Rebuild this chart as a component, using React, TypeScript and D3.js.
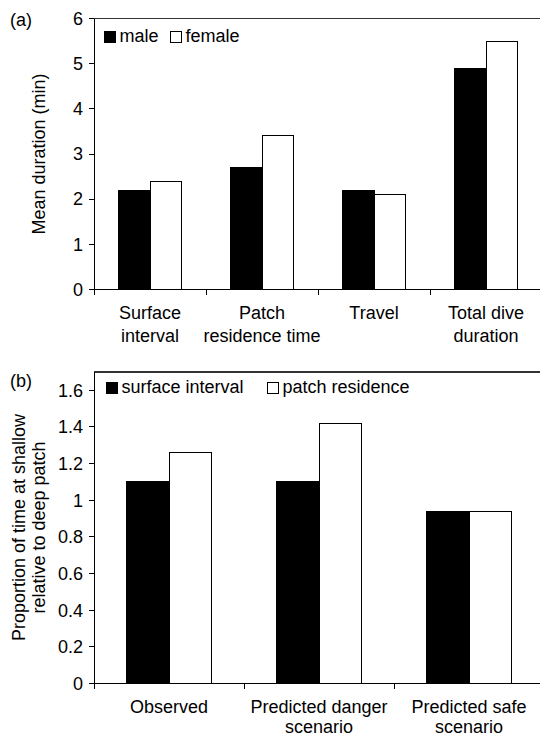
import React from "react";
import * as d3 from "d3";

// ---------- Data ----------
const categoriesA: string[][] = [["Surface", "interval"], ["Patch", "residence time"], ["Travel"], ["Total dive", "duration"]];
const maleValues: number[] = [2.2, 2.7, 2.2, 4.9];
const femaleValues: number[] = [2.4, 3.4, 2.1, 5.5];
const ticksA: number[] = [0, 1, 2, 3, 4, 5, 6];
const seriesA: string[] = ["male", "female"];

const categoriesB: string[][] = [["Observed"], ["Predicted danger", "scenario"], ["Predicted safe", "scenario"]];
const surfaceValues: number[] = [1.1, 1.1, 0.94];
const patchValues: number[] = [1.26, 1.42, 0.94];
const ticksB: number[] = [0, 0.2, 0.4, 0.6, 0.8, 1, 1.2, 1.4, 1.6];
const seriesB: string[] = ["surface interval", "patch residence"];

const FONT = "'Liberation Sans', Arial, sans-serif";
const FS = 18;
const W = 540;

type PanelProps = {
  cats: string[][];
  s1: number[];
  s2: number[];
  ticks: number[];
  yMax: number;
  top: number;
  bottom: number;
  left: number;
  xEnd: number;
  padIn: number;
  xLabelBase: number;
  lineGap: number;
};

function Panel(p: PanelProps) {
  const idx = p.cats.map((_, i) => String(i));
  const x = d3.scaleBand<string>().domain(idx).range([p.left, p.xEnd]).paddingInner(p.padIn).paddingOuter(p.padIn / 2);
  const sub = d3.scaleBand<string>().domain(["a", "b"]).range([0, x.bandwidth()]);
  const y = d3.scaleLinear().domain([0, p.yMax]).range([p.bottom, p.top]);
  const step = x.step();
  const boundaries = d3.range(p.cats.length + 1).map((i) => p.left + i * step);
  return (
    <g>
      {idx.map((k, i) => (
        <g key={k}>
          <rect x={x(k)! + sub("a")!} y={y(p.s1[i])} width={sub.bandwidth()} height={y(0) - y(p.s1[i])} fill="#000" stroke="#000" strokeWidth={1} shapeRendering="crispEdges" />
          <rect x={x(k)! + sub("b")!} y={y(p.s2[i])} width={sub.bandwidth()} height={y(0) - y(p.s2[i])} fill="#fff" stroke="#000" strokeWidth={1} shapeRendering="crispEdges" />
        </g>
      ))}
      {/* frame */}
      <line x1={p.left} x2={W} y1={p.top} y2={p.top} stroke="#333" strokeWidth={1.2} shapeRendering="crispEdges" />
      <line x1={p.left} x2={p.left} y1={p.top} y2={p.bottom + 5} stroke="#000" strokeWidth={1} shapeRendering="crispEdges" />
      <line x1={p.left} x2={W} y1={p.bottom} y2={p.bottom} stroke="#000" strokeWidth={1} shapeRendering="crispEdges" />
      {/* y ticks */}
      {p.ticks.map((t) => (
        <g key={t}>
          <line x1={p.left - 5} x2={p.left} y1={y(t)} y2={y(t)} stroke="#000" strokeWidth={1} shapeRendering="crispEdges" />
          <text x={p.left - 11} y={y(t)} dy="0.35em" textAnchor="end" fontSize={FS} fontFamily={FONT} fill="#000">
            {String(t)}
          </text>
        </g>
      ))}
      {/* x ticks */}
      {boundaries.map((b, i) => (
        <line key={i} x1={b} x2={b} y1={p.bottom} y2={p.bottom + 5} stroke="#000" strokeWidth={1} shapeRendering="crispEdges" />
      ))}
      {/* x labels */}
      {idx.map((k, i) => (
        <text key={k} textAnchor="middle" fontSize={FS} fontFamily={FONT} fill="#000">
          {p.cats[i].map((line, j) => (
            <tspan key={j} x={x(k)! + x.bandwidth() / 2} y={p.xLabelBase + j * p.lineGap}>
              {line}
            </tspan>
          ))}
        </text>
      ))}
    </g>
  );
}

function LegendItem({ x, y, label, fill }: { x: number; y: number; label: string; fill: string }) {
  return (
    <g>
      <rect x={x} y={y - 11} width={11} height={11} fill={fill} stroke="#000" strokeWidth={1} shapeRendering="crispEdges" />
      <text x={x + 15.5} y={y} fontSize={FS} fontFamily={FONT} fill="#000">
        {label}
      </text>
    </g>
  );
}

export default function App() {
  return (
    <svg width={540} height={736} style={{ position: "absolute", left: 0, top: 0, background: "#fff" }}>
      <rect x={0} y={0} width={540} height={736} fill="#fff" />
      {/* Panel (a) */}
      <text x={10} y={26} fontSize={FS} fontFamily={FONT}>(a)</text>
      <Panel cats={categoriesA} s1={maleValues} s2={femaleValues} ticks={ticksA} yMax={6} top={18.5} bottom={289.5} left={94} xEnd={542} padIn={0.434} xLabelBase={319} lineGap={23} />
      <text transform="translate(44.5,154) rotate(-90)" textAnchor="middle" fontSize={FS} fontFamily={FONT}>
        Mean duration (min)
      </text>
      <LegendItem x={104} y={42} label={seriesA[0]} fill="#000" />
      <LegendItem x={170} y={42} label={seriesA[1]} fill="#fff" />

      {/* Panel (b) */}
      <text x={10} y={387} fontSize={FS} fontFamily={FONT}>(b)</text>
      <Panel cats={categoriesB} s1={surfaceValues} s2={patchValues} ticks={ticksB} yMax={1.7} top={372} bottom={683.5} left={94} xEnd={544} padIn={0.427} xLabelBase={713} lineGap={20} />
      <text transform="translate(0,527.5) rotate(-90)" textAnchor="middle" fontSize={FS} fontFamily={FONT}>
        <tspan x={0} y={25}>Proportion of time at shallow</tspan>
        <tspan x={0} y={45}>relative to deep patch</tspan>
      </text>
      <LegendItem x={106} y={393} label={seriesB[0]} fill="#000" />
      <LegendItem x={267} y={393} label={seriesB[1]} fill="#fff" />
    </svg>
  );
}
